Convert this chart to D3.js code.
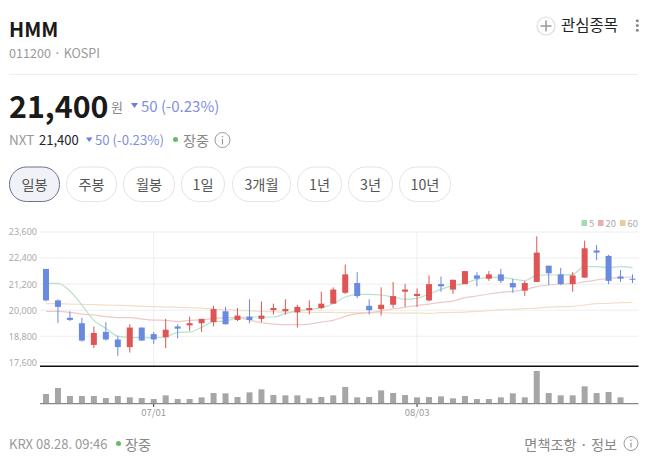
<!DOCTYPE html>
<html>
<head>
<meta charset="utf-8">
<script src="https://d3js.org/d3.v7.min.js"></script>
<style>
    html, body { margin: 0; padding: 0; background: #fff; }
    svg { display: block; }
    text { font-family: "Noto Sans CJK KR", "Noto Sans", sans-serif; }
    .axis text { font-family: "Noto Sans", sans-serif; }
</style>
</head>
<body>
<div id="d3-container"><svg width="647" height="462"></svg></div>
<script>
    // values, oldest session first
    var opens = [21900, 20450, 19650, 19400, 18400, 19000, 18650, 18300, 19200, 18900,
        18750, 19250, 19300, 19400, 19450, 19950, 19550, 19700, 19600, 20000,
        19950, 19900, 20000, 20100, 20300, 20800, 21250, 20200, 20050, 20250,
        20850, 20650, 20450, 21200, 20950, 21200, 21600, 21450, 21650, 21250,
        20900, 21300, 22050, 21650, 21200, 21500, 22750, 22500, 21550, 21450];
    var closes = [20450, 20150, 19550, 18600, 18950, 18650, 18300, 19200, 18600, 18650,
        19100, 19150, 19400, 19600, 20050, 19350, 19750, 19550, 19750, 20100,
        20050, 20150, 20100, 20300, 20950, 21650, 20650, 20000, 20250, 20650,
        20950, 20750, 21200, 21100, 21400, 21800, 21450, 21650, 21350, 21050,
        21250, 22650, 21700, 21200, 21600, 22850, 22650, 21350, 21450, 21400];
    var highs = [21900, 20500, 19950, 19650, 19250, 19450, 18800, 19350, 19200, 19000,
        19600, 19350, 19700, 19600, 20200, 20150, 20100, 20500, 20400, 20300,
        20500, 20250, 20450, 20850, 21050, 22100, 21750, 20500, 21050, 21300,
        21200, 21000, 21600, 21550, 21400, 21800, 21750, 21800, 21900, 21450,
        21350, 23400, 22050, 21950, 21750, 23200, 23000, 22550, 21850, 21650];
    var lows = [20400, 19400, 19500, 18550, 18250, 18600, 17900, 18050, 18600, 18450,
        18250, 18700, 19050, 19000, 19250, 19350, 19500, 19400, 19450, 19800,
        19800, 19200, 19800, 20050, 20300, 20750, 20550, 19800, 19750, 20100,
        20150, 20150, 20400, 20850, 20750, 21200, 21100, 21350, 21250, 20800,
        20650, 21300, 21150, 21150, 20850, 21500, 22300, 21200, 21300, 21250];
    var volumes = [1450, 2350, 1150, 1150, 1150, 850, 1150, 950, 850, 700,
        1250, 700, 700, 950, 1600, 1550, 1000, 1700, 2150, 1300,
        1250, 1250, 800, 1000, 1250, 2500, 950, 1000, 2000, 1600,
        1300, 950, 1000, 1100, 800, 1150, 700, 700, 950, 1550,
        950, 4900, 1600, 1250, 1250, 2600, 1600, 1750, 950, 100];
    var ma5 = [21235, 21235, 20882, 20237, 19531, 19162, 18809, 18748, 18732, 18732,
        18778, 18978, 18993, 19208, 19470, 19500, 19654, 19685, 19685, 19685,
        19838, 19976, 20038, 20114, 20299, 20606, 20729, 20729, 20698, 20606,
        20498, 20544, 20744, 20959, 21128, 21235, 21420, 21512, 21512, 21435,
        21358, 21604, 21619, 21619, 21650, 22003, 22003, 21957, 22003, 21957];
    var ma20 = [19946, 19946, 19899, 19822, 19777, 19700, 19654, 19654, 19592, 19546,
        19531, 19485, 19531, 19546, 19623, 19654, 19654, 19546, 19423, 19362,
        19331, 19331, 19362, 19454, 19531, 19715, 19838, 19884, 19961, 20053,
        20130, 20222, 20283, 20360, 20421, 20575, 20652, 20744, 20821, 20867,
        20944, 21082, 21159, 21205, 21220, 21312, 21389, 21466, 21512, 21527];
    var ma60 = [20299, 20299, 20283, 20268, 20253, 20237, 20222, 20207, 20191, 20160,
        20145, 20130, 20114, 20099, 20053, 20022, 19992, 19976, 19946, 19930,
        19915, 19915, 19899, 19899, 19899, 19884, 19884, 19884, 19884, 19869,
        19869, 19869, 19853, 19884, 19899, 19915, 19946, 19976, 20022, 20038,
        20068, 20099, 20145, 20160, 20176, 20237, 20299, 20314, 20345, 20360];
    var priceTicks = [17600, 18800, 20000, 21200, 22400, 23600];
    var dateTicks = [{ i: 9, label: "07/01" }, { i: 31, label: "08/03" }];
    var legendNames = ["5", "20", "60"];
    var rangeNames = ["일봉", "주봉", "월봉", "1일", "3개월", "1년", "3년", "10년"];

    var UP = "#df5454", DOWN = "#6a8ae0";
    var MA_COLORS = ["#b9e2c8", "#eec9c9", "#f1dfc6"];
    var LEGEND_COLORS = ["#a3dab6", "#e9adad", "#e9cb9f"];

    var svg = d3.select("svg");
    var left = 40, right = 638.5;

    var x = d3.scaleBand().domain(d3.range(opens.length)).range([left, right]);
    var y = d3.scaleLinear().domain([17600, 23600]).range([362.3, 232]);
    var v = d3.scaleLinear().domain([0, 4900]).range([403.7, 371]);

    function cx(i) {
        return x(i) + x.bandwidth() / 2;
    }

    function label(px, py, str, size, color, weight, anchor) {
        return svg.append("text")
            .attr("x", px)
            .attr("y", py)
            .attr("font-size", size)
            .attr("fill", color)
            .attr("font-weight", weight || 400)
            .attr("text-anchor", anchor || "start")
            .text(str);
    }

    function infoIcon(px, py, r) {
        svg.append("circle").attr("cx", px).attr("cy", py).attr("r", r)
            .attr("fill", "none").attr("stroke", "#999").attr("stroke-width", 1);
        svg.append("line").attr("x1", px).attr("x2", px).attr("y1", py - 1).attr("y2", py + r - 3)
            .attr("stroke", "#999").attr("stroke-width", 1.2);
        svg.append("circle").attr("cx", px).attr("cy", py - 3.2).attr("r", 0.8).attr("fill", "#999");
    }

    function triangle(px, py, w, h) {
        svg.append("path")
            .attr("d", d3.line()([[px, py], [px + w, py], [px + w / 2, py + h]]) + "Z")
            .attr("fill", "#6a7fdc");
    }

    // header
    label(9, 37, "HMM", 20, "#1a1a1a", 700);
    label(9, 58, "011200 · KOSPI", 12.6, "#999");
    svg.append("line").attr("x1", 9).attr("x2", 638).attr("y1", 74.5).attr("y2", 74.5).attr("stroke", "#eee");

    svg.append("circle").attr("cx", 546).attr("cy", 26).attr("r", 9).attr("fill", "#fff")
        .attr("stroke", "#ddd").attr("stroke-width", 1.2);
    svg.append("path").attr("d", "M540.5,26H551.5M546,20.5V31.5").attr("stroke", "#999").attr("stroke-width", 1.5);
    label(561, 31, "관심종목", 15.5, "#222");
    [20.7, 25.5, 30.3].forEach(function(d) {
        svg.append("circle").attr("cx", 637.3).attr("cy", d).attr("r", 1.5).attr("fill", "#888");
    });

    // price block
    label(9, 118, "21,400", 30.4, "#1a1a1a", 700);
    label(111, 112, "원", 13, "#888");
    triangle(131, 103, 7, 5);
    label(141, 112, "50 (-0.23%)", 15, "#7f8fe0");

    label(9, 145, "NXT", 13.5, "#999");
    label(39, 145, "21,400", 13, "#222");
    triangle(86, 137.5, 6.5, 4.5);
    label(95, 145, "50 (-0.23%)", 13.2, "#7f8fe0");
    svg.append("circle").attr("cx", 175.5).attr("cy", 139.5).attr("r", 2.5).attr("fill", "#66bb6a");
    label(183, 145.5, "장중", 14.2, "#888");
    infoIcon(222.5, 140, 7.5);

    // period buttons
    var buttonLeft = [9, 66, 123, 181, 232, 297, 348, 399];
    var buttonRight = [60, 117, 175, 225, 291, 342, 393, 451];
    rangeNames.forEach(function(d, i) {
        svg.append("rect")
            .attr("x", buttonLeft[i] + 0.5)
            .attr("y", 167)
            .attr("width", buttonRight[i] - buttonLeft[i] - 1)
            .attr("height", 34.5)
            .attr("rx", 17)
            .attr("fill", i === 0 ? "#f0f2f8" : "#fff")
            .attr("stroke", i === 0 ? "#68738f" : "#e4e4e4");
        label((buttonLeft[i] + buttonRight[i]) / 2, 189.5, d, 14.2, "#555", 400, "middle");
    });

    // legend
    var legendX = [581.5, 598, 620];
    legendNames.forEach(function(d, i) {
        svg.append("rect").attr("x", legendX[i]).attr("y", 220).attr("width", 5.5).attr("height", 6)
            .attr("fill", LEGEND_COLORS[i]);
        label(legendX[i] + 7.5, 226.5, d, 9.5, "#aaa");
    });

    // grid and price axis
    svg.append("g")
        .attr("class", "axis axis--y")
        .attr("transform", "translate(" + left + ",0)")
        .call(d3.axisLeft(y).tickValues(priceTicks).tickSize(0).tickPadding(3).tickFormat(d3.format(",")))
        .call(function(g) { g.select(".domain").remove(); })
        .call(function(g) {
            g.selectAll("text").attr("font-size", 9).attr("fill", "#aaa").attr("font-family", "Noto Sans");
        });

    svg.append("g").selectAll("line").data(priceTicks).enter().append("line")
        .attr("x1", left).attr("x2", right)
        .attr("y1", function(d) { return y(d); })
        .attr("y2", function(d) { return y(d); })
        .attr("stroke", "#eee");

    svg.append("g").selectAll("line").data(dateTicks).enter().append("line")
        .attr("x1", function(d) { return cx(d.i); })
        .attr("x2", function(d) { return cx(d.i); })
        .attr("y1", 232).attr("y2", 366)
        .attr("stroke", "#eee");

    svg.append("line").attr("x1", left).attr("x2", right).attr("y1", 366.3).attr("y2", 366.3)
        .attr("stroke", "#111").attr("stroke-width", 1.4);

    // moving averages go under the candles
    var line = d3.line()
        .x(function(d, i) { return cx(i); })
        .y(function(d) { return y(d); })
        .curve(d3.curveMonotoneX);

    [ma60, ma20, ma5].forEach(function(d, i) {
        svg.append("path")
            .attr("d", line(d))
            .attr("fill", "none")
            .attr("stroke", MA_COLORS[2 - i])
            .attr("stroke-width", 1.2);
    });

    // candles
    var candles = svg.append("g").selectAll("g").data(opens).enter().append("g");
    function candleColor(d, i) {
        return closes[i] >= d ? UP : DOWN;
    }
    candles.append("line")
        .attr("x1", function(d, i) { return cx(i); })
        .attr("x2", function(d, i) { return cx(i); })
        .attr("y1", function(d, i) { return y(highs[i]); })
        .attr("y2", function(d, i) { return y(lows[i]); })
        .attr("stroke", candleColor)
        .attr("stroke-width", 1);
    candles.append("rect")
        .attr("x", function(d, i) { return cx(i) - 3; })
        .attr("width", 6)
        .attr("y", function(d, i) { return y(Math.max(d, closes[i])); })
        .attr("height", function(d, i) { return Math.max(1, Math.abs(y(d) - y(closes[i]))); })
        .attr("fill", candleColor);

    // volume
    svg.append("g").selectAll("rect").data(volumes).enter().append("rect")
        .attr("x", function(d, i) { return cx(i) - 3; })
        .attr("width", 6)
        .attr("y", function(d) { return v(d); })
        .attr("height", function(d) { return v(0) - v(d); })
        .attr("fill", "#a6a6a6");

    svg.append("line").attr("x1", left).attr("x2", right).attr("y1", 403.6).attr("y2", 403.6)
        .attr("stroke", "#888").attr("stroke-width", 1.4);

    dateTicks.forEach(function(d) {
        svg.append("line").attr("x1", cx(d.i)).attr("x2", cx(d.i)).attr("y1", 404).attr("y2", 407)
            .attr("stroke", "#333");
        label(cx(d.i), 416, d.label, 9.5, "#999", 400, "middle");
    });

    // footer
    label(9, 449, "KRX 08.28. 09:46", 13, "#999");
    svg.append("circle").attr("cx", 118.5).attr("cy", 443.5).attr("r", 2.5).attr("fill", "#66bb6a");
    label(125, 449.5, "장중", 14.2, "#888");
    label(617, 449.5, "면책조항 · 정보", 14.2, "#888", 400, "end");
    infoIcon(631, 443.5, 7);
</script>
</body>
</html>
